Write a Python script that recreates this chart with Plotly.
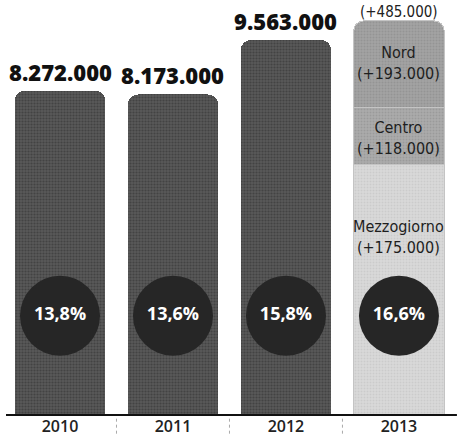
import plotly.graph_objects as go

# ---- data ----
years = ["2010", "2011", "2012", "2013"]
totals = [8_272_000, 8_173_000, 9_563_000]          # 2010-2012 bars
value_labels = ["8.272.000", "8.173.000", "9.563.000"]
pct_labels = ["13,8%", "13,6%", "15,8%", "16,6%"]
increase_2013 = 485_000
increase_label_2013 = "(+485.000)"
areas = ["Mezzogiorno", "Centro", "Nord"]
area_increase_labels = ["(+175.000)", "(+118.000)", "(+193.000)"]
# bands of the 2013 bar as drawn in the graphic (illustrative split)
area_bands_2013 = [6_380_000, 1_450_000, 2_218_000]

total_2013 = totals[2] + increase_2013

PX_PER_UNIT = 39.5 / 1_000_000
PLOT_H = 418
y_top = PLOT_H / PX_PER_UNIT

fig = go.Figure()

dark_pattern = dict(shape=".", bgcolor="#585858", fgcolor="#2e2e2e", size=3, solidity=0.38)
fig.add_trace(go.Bar(
    x=years[:3], y=totals, width=0.8,
    marker=dict(color="#585858", pattern=dark_pattern, line=dict(width=0)),
    hoverinfo="skip", showlegend=False,
))

band_colors = ["#d9d9d9", "#ababab", "#a2a2a2"]
band_fg = ["#bdbdbd", "#8a8a8a", "#858585"]
for name, val, c, fg in zip(areas, area_bands_2013, band_colors, band_fg):
    fig.add_trace(go.Bar(
        x=[years[3]], y=[val], width=0.8, name=name,
        marker=dict(color=c, pattern=dict(shape=".", bgcolor=c, fgcolor=fg, size=3, solidity=0.35),
                    line=dict(width=1, color="#c4c4c4")),
        hoverinfo="skip", showlegend=False,
    ))

# circles with percentages
circle_y = 100 / PX_PER_UNIT
fig.add_trace(go.Scatter(
    x=years, y=[circle_y] * 4, mode="markers+text",
    marker=dict(size=80, color="#262626", line=dict(width=0)),
    text=pct_labels, textposition="middle center",
    textfont=dict(family="Open Sans", size=18, color="white", weight="bold"),
    hoverinfo="skip", showlegend=False,
))

annotations = []
for i, (v, lab) in enumerate(zip(totals, value_labels)):
    annotations.append(dict(x=i, y=v, text=lab, showarrow=False, yanchor="bottom", yshift=2,
                            font=dict(family="Open Sans", size=22, color="#111", weight=800)))
annotations.append(dict(x=3, y=total_2013, text=increase_label_2013, showarrow=False,
                        yanchor="bottom", yshift=-2,
                        font=dict(family="DejaVu Sans Condensed, Liberation Sans Narrow, sans-serif",
                                  size=15, color="#222")))

# area labels inside 2013 bar
cum = 0
band_tops = []
for v in area_bands_2013:
    cum += v
    band_tops.append(cum)
label_offsets = [62, 20, 32]  # pixels below each band top
for name, inc, top, off in zip(areas, area_increase_labels, band_tops, label_offsets):
    annotations.append(dict(x=3, y=top, text=name + "<br>" + inc, showarrow=False,
                            yanchor="top", yshift=-off + 12,
                            font=dict(family="DejaVu Sans Condensed, Liberation Sans Narrow, sans-serif",
                                      size=16, color="#1e1e1e")))

shapes = []
for xs in [0.5, 1.5, 2.5]:
    shapes.append(dict(type="line", xref="x", yref="paper", x0=xs, x1=xs, y0=-0.045, y1=0,
                       line=dict(color="#aaaaaa", width=1, dash="dot")))
shapes.append(dict(type="line", xref="paper", yref="paper", x0=0.013, x1=0.989, y0=0, y1=0,
                   line=dict(color="#111", width=2)))

fig.update_layout(
    width=462, height=437,
    margin=dict(l=0, r=0, t=0, b=19),
    paper_bgcolor="white", plot_bgcolor="white",
    barmode="stack", bargap=0.2, barcornerradius=10,
    xaxis=dict(type="category", range=[-0.531, 3.558], showgrid=False, zeroline=False,
               showline=False,
               tickfont=dict(family="Open Sans", size=16, color="#222", weight=600), ticks=""),
    yaxis=dict(range=[0, y_top], visible=False),
    annotations=annotations, shapes=shapes,
)

fig.write_html("out.html")
